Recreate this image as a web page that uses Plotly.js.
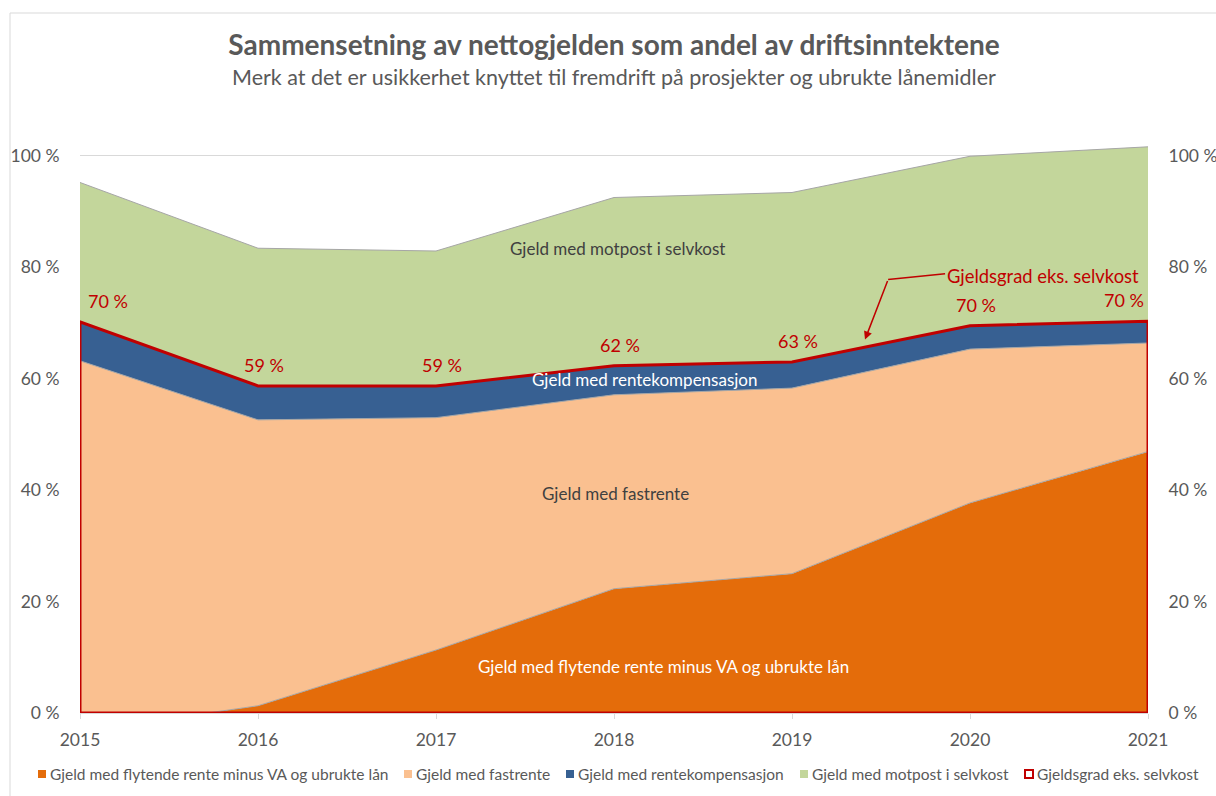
<!DOCTYPE html>
<html>
<head>
<meta charset="utf-8">
<script src="https://cdn.plot.ly/plotly-3.0.1.min.js"></script>
<style>html,body{margin:0;padding:0;background:#fff;}#chart{width:1216px;height:796px;}</style>
</head>
<body>
<div id="chart"></div>
<script>
// ---- data (percent of driftsinntekter) ----
const years = [2015, 2016, 2017, 2018, 2019, 2020, 2021];
const flytende = [-3.3, 1.3, 11.3, 22.3, 25.0, 37.7, 46.9];
const fastrente = [66.5, 51.3, 41.7, 34.8, 33.3, 27.6, 19.5];
const rentekomp = [7.0, 6.1, 5.7, 5.2, 4.7, 4.2, 3.9];
const motpost = [25.0, 24.7, 24.2, 30.2, 30.4, 30.4, 31.3];
const gjeldsgrad = [70.2, 58.7, 58.7, 62.3, 63.0, 69.5, 70.3];
const seriesNames = [
  'Gjeld med flytende rente minus VA og ubrukte lån',
  'Gjeld med fastrente',
  'Gjeld med rentekompensasjon',
  'Gjeld med motpost i selvkost',
  'Gjeldsgrad eks. selvkost'
];
const yTicks = [0, 20, 40, 60, 80, 100];
const yTickText = yTicks.map(v => v + ' %');

// ---- styling / geometry ----
const colors = ['#e46c0a', '#fac090', '#376092', '#c3d69b', '#c00000'];
const FONT = 'Lato, "Open Sans", sans-serif';
const GREY = '#595959';
const PL = 80, PR = 1148, PT = 139, PB = 713;
const px2x = px => (px - PL) / (PR - PL);
const px2y = py => (PB - py) / (PB - PT);

const areaVals = [flytende, fastrente, rentekomp, motpost];
const traces = areaVals.map((vals, i) => ({
  type: 'scatter', mode: 'lines', x: years, y: vals,
  stackgroup: 'one', name: seriesNames[i], showlegend: false,
  fillcolor: colors[i], line: {color: '#a6a6a6', width: 1},
  hoverinfo: 'skip'
}));

// Gjeldsgrad drawn as an unfilled area outline
const last = years.length - 1;
traces.push({
  type: 'scatter', mode: 'lines',
  x: [years[0]].concat(years, [years[last], years[0]]),
  y: [0].concat(gjeldsgrad, [0, 0]),
  name: seriesNames[4], showlegend: false, yaxis: 'y2',
  line: {color: colors[4], width: 3}, hoverinfo: 'skip'
});

const annotations = [];
// subtitle
annotations.push({
  xref: 'paper', yref: 'paper', x: 0.5, y: px2y(77), xanchor: 'center', yanchor: 'middle',
  text: 'Merk at det er usikkerhet knyttet til fremdrift på prosjekter og ubrukte lånemidler',
  showarrow: false, font: {family: FONT, size: 21.5, color: GREY}
});
// data labels for gjeldsgrad
gjeldsgrad.forEach((v, i) => {
  annotations.push({
    x: years[i], y: v, xref: 'x', yref: 'y', showarrow: false,
    text: Math.round(v) + ' %',
    xanchor: i === 0 ? 'left' : (i === last ? 'right' : 'center'),
    xshift: i === 0 ? 6 : (i === last ? -2 : 6), yshift: 21,
    font: {family: FONT, size: 18, color: colors[4]}
  });
});
// area labels
const areaLabelPos = [[2018.28, 8.3, '#ffffff'], [2018.01, 39.3, '#404040'], [2018.17, 59.8, '#ffffff'], [2018.02, 83.3, '#404040']];
areaLabelPos.forEach((p, i) => {
  annotations.push({
    x: p[0], y: p[1], xref: 'x', yref: 'y', showarrow: false, text: seriesNames[i],
    font: {family: FONT, size: 17, color: p[2]}
  });
});
// callout for gjeldsgrad
annotations.push({
  x: 2020.41, y: 78.5, xref: 'x', yref: 'y', showarrow: false, text: seriesNames[4],
  font: {family: FONT, size: 18.4, color: colors[4]}
});
annotations.push({
  x: 2019.41, y: 67.0, xref: 'x', yref: 'y', ax: 2019.54, ay: 77.8, axref: 'x', ayref: 'y',
  text: '', showarrow: true, arrowhead: 2, arrowsize: 1.1, arrowwidth: 1.5, arrowcolor: colors[4]
});

// manual legend (small squares like the reference)
const legSq = [38, 404, 566, 800, 1025];
const legY = 774;
const shapes = [];
shapes.push({type: 'rect', xref: 'paper', yref: 'paper', x0: px2x(10), y0: px2y(13), x1: px2x(1240), y1: px2y(820),
  line: {color: '#d9d9d9', width: 1}, fillcolor: 'rgba(0,0,0,0)', layer: 'below'});
shapes.push({type: 'line', xref: 'x', yref: 'y', x0: 2019.54, y0: 77.8, x1: 2019.86, y1: 78.8,
  line: {color: colors[4], width: 1.5}});
seriesNames.forEach((n, i) => {
  const hollow = i === 4;
  shapes.push({type: 'rect', xref: 'paper', yref: 'paper',
    x0: px2x(legSq[i]), x1: px2x(legSq[i] + 8), y0: px2y(legY - 4), y1: px2y(legY + 4),
    fillcolor: hollow ? '#ffffff' : colors[i],
    line: {color: hollow ? colors[4] : colors[i], width: hollow ? 2 : 0}});
  annotations.push({xref: 'paper', yref: 'paper', x: px2x(legSq[i] + 10), y: px2y(legY),
    xanchor: 'left', yanchor: 'middle', showarrow: false, text: n,
    font: {family: FONT, size: 15.5, color: GREY}});
});

const yaxisBase = {
  range: [0, 103], tickvals: yTicks, ticktext: yTickText, zeroline: false,
  ticks: 'outside', ticklen: 16, tickcolor: 'rgba(0,0,0,0)',
  tickfont: {family: FONT, size: 17.5, color: GREY}, fixedrange: true
};

const layout = {
  width: 1216, height: 796,
  margin: {l: PL, r: 1216 - PR, t: PT, b: 796 - PB},
  paper_bgcolor: '#ffffff', plot_bgcolor: '#ffffff',
  showlegend: false,
  title: {
    text: 'Sammensetning av nettogjelden som andel av driftsinntektene',
    x: 0.5, xref: 'paper', xanchor: 'center', y: 1 - 45 / 796, yref: 'container', yanchor: 'middle',
    font: {family: FONT, size: 28, color: GREY, weight: 700}
  },
  xaxis: {
    range: [years[0], years[last]], tickvals: years, ticktext: years.map(String),
    showgrid: false, zeroline: false, showline: true, linecolor: '#d9d9d9', linewidth: 1,
    ticks: 'outside', ticklen: 5, tickcolor: '#d9d9d9', ticklabelstandoff: 6,
    tickfont: {family: FONT, size: 17.5, color: GREY}, fixedrange: true
  },
  yaxis: Object.assign({}, yaxisBase, {showgrid: true, gridcolor: '#d9d9d9', gridwidth: 1}),
  yaxis2: Object.assign({}, yaxisBase, {overlaying: 'y', side: 'right', showgrid: false}),
  annotations: annotations,
  shapes: shapes
};

Plotly.newPlot('chart', traces, layout, {displayModeBar: false, staticPlot: true});
</script>
</body>
</html>
